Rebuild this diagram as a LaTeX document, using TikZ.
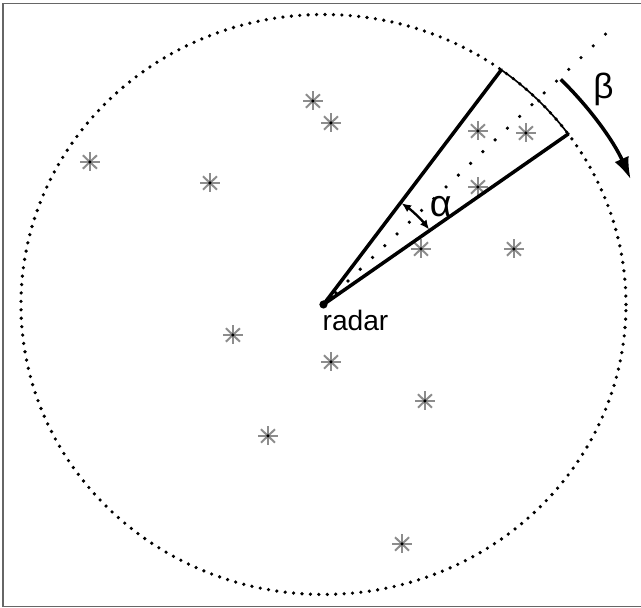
\documentclass[tikz,border=0pt]{standalone}
\usepackage{fontspec}
\setmainfont{Liberation Sans}
\usepackage{tikz}
\usetikzlibrary{arrows.meta,positioning,calc}

\tikzset{
  dotline/.style={line width=3.1pt,line cap=round,dash pattern=on 0pt off #1},
  beam/.style={line width=3pt,line join=round,line cap=round},
  target/.style={black!45,line width=1.7pt},
  frameline/.style={black!60,line width=1.5pt}
}

\begin{document}
\begin{tikzpicture}[x=0.0313cm,y=0.03cm]
  \useasboundingbox (-310.1,-303.5) rectangle (304.4,304.5);
  % frame (right side cut off)
  \draw[frameline] (320,301) -- (-307,301) -- (-307,-302) -- (320,-302);
  % range of the radar
  \draw[dotline=7.2pt] (0,0) circle[radius=290];
  % scan direction
  \draw[dotline=14.5pt] (0,0) -- (45:393);
  % targets
  \foreach \p in {(-223.9,142.5),(-108.8,121.5),(-10.1,203.5),(7.2,181.5),
                  (148.1,173.5),(194.1,171.5),(148.1,117.5),(93.5,55.5),
                  (182.6,55.5),(-86.8,-30.5),(7.2,-57.5),(97.3,-96.5),
                  (-53.2,-131.5),(75.3,-239.5)} {
    \foreach \a in {0,45,90,135}
      \draw[target] \p ++(\a:9.5) -- ++(\a+180:19);
    \fill \p circle[radius=1.5pt];
  }
  % beam
  \node[circle,fill,inner sep=0pt,minimum size=7pt] (radar) at (0,0) {};
  \draw[beam] (54:290) -- (radar.center) -- (36:290);
  \draw[line width=1.4pt] (54:290) arc[start angle=54,end angle=36,radius=290];
  \node[anchor=north west,inner sep=0pt,font=\fontsize{24}{28}\selectfont] (radarlabel) at (-1,-5.5) {radar};
  % beam width
  \draw[{Latex[length=8pt,width=7pt]}-{Latex[length=8pt,width=7pt]},line width=2pt]
    (53.5:126) arc[start angle=53.5,end angle=36.5,radius=126];
  \node[font=\fontsize{32}{36}\selectfont] (alpha) at (41:149) {α};
  % rotation
  \draw[-{Latex[length=19pt,width=13pt]},line width=3pt]
    (44.7:320) arc[start angle=44.7,end angle=23,radius=320];
  \node[font=\fontsize{30}{34}\selectfont] (beta) at (38.7:344) {β};
\end{tikzpicture}
\end{document}
